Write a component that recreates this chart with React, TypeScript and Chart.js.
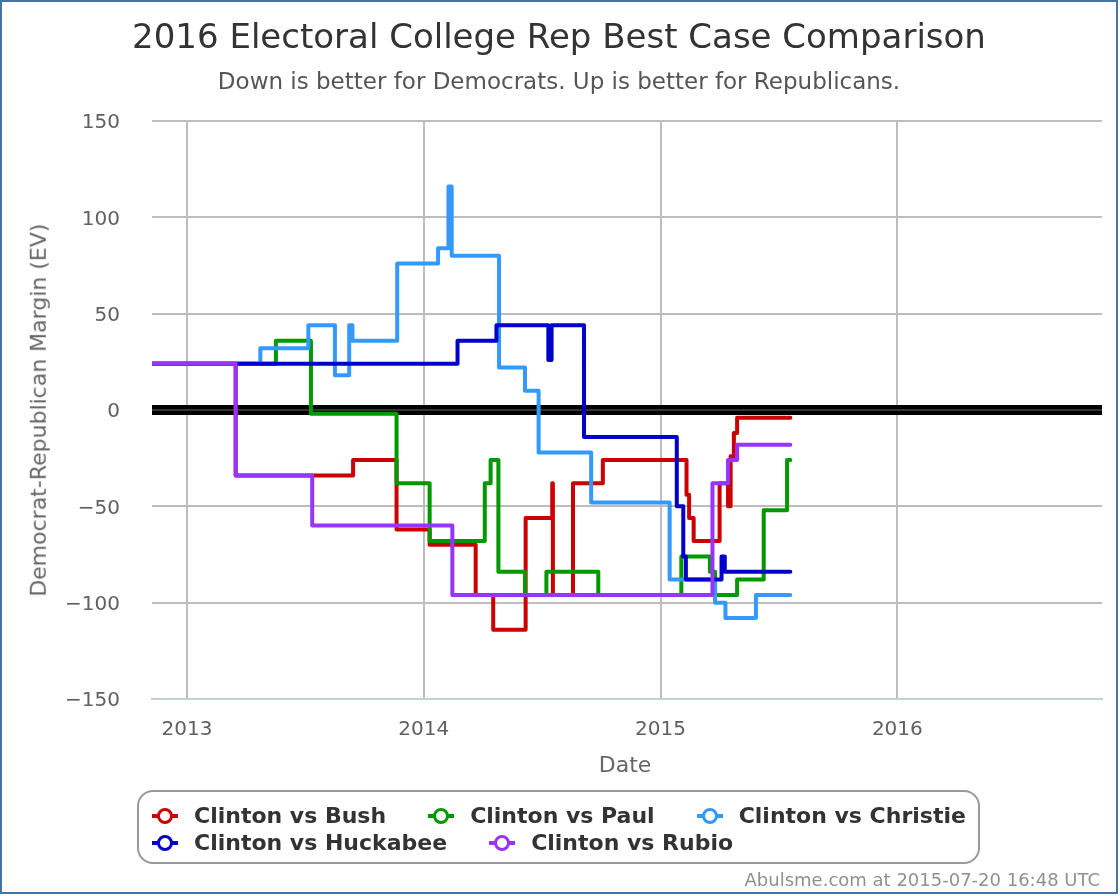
import React, { useEffect, useRef } from "react";
import { Chart, registerables } from "chart.js";

Chart.register(...registerables);

const FONT = "'DejaVu Sans', 'Liberation Sans', sans-serif";

// ---- Axis settings ----
const xMinDate = "2012-11-08";
const xMaxDate = "2016-11-11";
const yearTicks = [2013, 2014, 2015, 2016];
const yMin = -150;
const yMax = 150;
const yStep = 50;

// ---- Series data (date of change, new value) ----
const bushDates = [
  "2012-11-08", "2013-03-17", "2013-09-14", "2013-11-20", "2014-01-10", "2014-03-22",
  "2014-04-18", "2014-06-07", "2014-07-18", "2014-07-19", "2014-08-19", "2014-10-04",
  "2015-02-10", "2015-02-14", "2015-02-21", "2015-04-02", "2015-04-15", "2015-04-19",
  "2015-04-24", "2015-04-29", "2015-07-20",
];
const bushValues = [
  24, -34, -26, -62, -70, -96,
  -114, -56, -38, -96, -38, -26,
  -44, -56, -68, -38, -50, -24,
  -12, -4, -4,
];

const paulDates = [
  "2012-11-08", "2013-05-18", "2013-07-11", "2013-11-20", "2014-01-10", "2014-04-05",
  "2014-04-14", "2014-04-26", "2014-06-06", "2014-07-09", "2014-09-27", "2015-02-02",
  "2015-03-18", "2015-03-26", "2015-04-29", "2015-06-09", "2015-07-15", "2015-07-20",
];
const paulValues = [
  24, 36, -2, -38, -68, -38,
  -26, -84, -96, -84, -96, -76,
  -84, -96, -88, -52, -26, -26,
];

const christieDates = [
  "2012-11-08", "2013-04-24", "2013-07-07", "2013-08-17", "2013-09-08", "2013-09-13",
  "2013-11-21", "2014-01-23", "2014-02-08", "2014-02-13", "2014-04-27", "2014-06-06",
  "2014-06-27", "2014-09-16", "2015-01-15", "2015-03-26", "2015-04-11", "2015-05-28",
  "2015-07-20",
];
const christieValues = [
  24, 32, 44, 18, 44, 36,
  76, 84, 116, 80, 22, 10,
  -22, -48, -88, -100, -108, -96,
  -96,
];

const huckabeeDates = [
  "2012-11-08", "2014-02-22", "2014-04-23", "2014-07-12", "2014-07-17", "2014-09-05",
  "2015-01-26", "2015-02-05", "2015-02-09", "2015-04-05", "2015-04-10", "2015-07-20",
];
const huckabeeValues = [
  24, 36, 44, 26, 44, -14,
  -50, -76, -88, -76, -84, -84,
];

const rubioDates = [
  "2012-11-08", "2013-03-17", "2013-07-13", "2014-02-14", "2015-03-22", "2015-04-15",
  "2015-04-29", "2015-07-20",
];
const rubioValues = [24, -34, -60, -96, -38, -26, -18, -18];

const seriesNames = [
  "Clinton vs Bush",
  "Clinton vs Paul",
  "Clinton vs Christie",
  "Clinton vs Huckabee",
  "Clinton vs Rubio",
];
const seriesColors = ["#cc0000", "#009900", "#3399ff", "#0000cc", "#9933ff"];
const seriesDates = [bushDates, paulDates, christieDates, huckabeeDates, rubioDates];
const seriesValues = [bushValues, paulValues, christieValues, huckabeeValues, rubioValues];

const titleText = "2016 Electoral College Rep Best Case Comparison";
const subtitleText = "Down is better for Democrats. Up is better for Republicans.";
const yTitleText = "Democrat-Republican Margin (EV)";
const xTitleText = "Date";
const creditText = "Abulsme.com at 2015-07-20 16:48 UTC";

function ts(s: string): number {
  const [y, m, d] = s.split("-").map(Number);
  return Date.UTC(y, m - 1, d);
}

const zeroLinePlugin = {
  id: "zeroLine",
  beforeDatasetsDraw(chart: any) {
    const { ctx, chartArea, scales } = chart;
    const y = scales.y.getPixelForValue(0);
    ctx.save();
    ctx.fillStyle = "#000000";
    ctx.fillRect(chartArea.left, y - 5, chartArea.right - chartArea.left, 10);
    ctx.fillStyle = "#333333";
    ctx.fillRect(chartArea.left, y - 1, chartArea.right - chartArea.left, 2);
    ctx.restore();
  },
};

function textTop(centerY: number, size: number) {
  return centerY - 0.58 * size;
}

export default function App() {
  const canvasRef = useRef<HTMLCanvasElement>(null);

  useEffect(() => {
    if (!canvasRef.current) return;
    const datasets = seriesNames.map((name, i) => ({
      label: name,
      data: seriesDates[i].map((d, j) => ({ x: ts(d), y: seriesValues[i][j] })),
      borderColor: seriesColors[i],
      backgroundColor: seriesColors[i],
      borderWidth: 4,
      pointRadius: 0,
      pointHoverRadius: 0,
      stepped: "before",
      fill: false,
      order: seriesNames.length - i,
      borderJoinStyle: "round",
      borderCapStyle: "round",
    }));

    const chart = new Chart(canvasRef.current, {
      type: "line",
      data: { datasets } as any,
      plugins: [zeroLinePlugin],
      options: {
        animation: false,
        responsive: false,
        maintainAspectRatio: false,
        devicePixelRatio: 1,
        layout: { padding: { left: 52, right: 16, top: 121, bottom: 125 } },
        plugins: {
          legend: { display: false },
          title: { display: false },
          tooltip: { enabled: false },
        },
        scales: {
          x: {
            type: "linear",
            min: ts(xMinDate),
            max: ts(xMaxDate) + 12 * 3600 * 1000,
            afterBuildTicks: (scale: any) => {
              scale.ticks = yearTicks.map((y) => ({ value: Date.UTC(y, 0, 1) }));
            },
            afterFit: (scale: any) => {
              scale.height = 70;
            },
            ticks: {
              autoSkip: false,
              maxRotation: 0,
              padding: 19,
              color: "#606060",
              font: { family: FONT, size: 20 },
              callback: (v: any) => String(new Date(Number(v)).getUTCFullYear()),
            },
            grid: { color: "#bdbdbd", lineWidth: 2, drawTicks: false },
            border: { display: true, color: "#c0d0e0", width: 2 },
          },
          y: {
            type: "linear",
            min: yMin,
            max: yMax,
            afterFit: (scale: any) => {
              scale.width = 100;
            },
            ticks: {
              stepSize: yStep,
              padding: 32,
              labelOffset: 2,
              color: "#606060",
              font: { family: FONT, size: 20 },
              callback: (v: any) => (Number(v) < 0 ? "\u2212" + Math.abs(Number(v)) : String(v)),
            },
            grid: {
              color: (ctx: any) => (ctx.tick && ctx.tick.value === yMin ? "rgba(0,0,0,0)" : "#bdbdbd"),
              lineWidth: 2,
              drawTicks: false,
            },
            border: { display: false },
          },
        },
      } as any,
    });
    return () => chart.destroy();
  }, []);

  const legendRows = [
    [0, 1, 2],
    [3, 4],
  ];

  return (
    <div
      style={{
        position: "absolute",
        left: 0,
        top: 0,
        width: 1118,
        height: 894,
        background: "#ffffff",
        fontFamily: FONT,
        overflow: "hidden",
      }}
    >
      <canvas
        ref={canvasRef}
        width={1118}
        height={894}
        style={{ position: "absolute", left: 0, top: 0, width: 1118, height: 894 }}
      />
      <div
        style={{
          position: "absolute",
          left: 0,
          top: textTop(36, 34),
          width: 1118,
          textAlign: "center",
          fontSize: 34,
          lineHeight: 1.2,
          color: "#333333",
          whiteSpace: "nowrap",
        }}
      >
        {titleText}
      </div>
      <div
        style={{
          position: "absolute",
          left: 0,
          top: textTop(81, 23),
          width: 1118,
          textAlign: "center",
          fontSize: 23,
          lineHeight: 1.2,
          color: "#555555",
          whiteSpace: "nowrap",
        }}
      >
        {subtitleText}
      </div>
      <div
        style={{
          position: "absolute",
          left: 39 - 300,
          top: 410 - 13.2,
          width: 600,
          height: 26.4,
          textAlign: "center",
          fontSize: 22,
          lineHeight: 1.2,
          color: "#666666",
          whiteSpace: "nowrap",
          transform: "rotate(-90deg)",
          transformOrigin: "50% 50%",
        }}
      >
        {yTitleText}
      </div>
      <div
        style={{
          position: "absolute",
          left: 625 - 100,
          top: textTop(765, 22),
          width: 200,
          textAlign: "center",
          fontSize: 22,
          lineHeight: 1.2,
          color: "#666666",
          whiteSpace: "nowrap",
        }}
      >
        {xTitleText}
      </div>
      <div
        style={{
          position: "absolute",
          left: 137,
          top: 790,
          width: 843,
          height: 74,
          boxSizing: "border-box",
          border: "2px solid #999999",
          borderRadius: 16,
        }}
      />
      {legendRows.map((row, r) => (
        <div
          key={r}
          style={{
            position: "absolute",
            left: 152,
            top: (r === 0 ? 816 : 843) - 14,
            height: 28,
            display: "flex",
            alignItems: "center",
            gap: 42,
            whiteSpace: "nowrap",
          }}
        >
          {row.map((i) => (
            <div key={i} style={{ display: "flex", alignItems: "center" }}>
              <div style={{ position: "relative", width: 26, height: 28, marginRight: 16 }}>
                <div
                  style={{
                    position: "absolute",
                    left: 0,
                    top: 12,
                    width: 26,
                    height: 4,
                    background: seriesColors[i],
                  }}
                />
                <div
                  style={{
                    position: "absolute",
                    left: 5,
                    top: 6,
                    width: 16,
                    height: 16,
                    boxSizing: "border-box",
                    border: `3px solid ${seriesColors[i]}`,
                    borderRadius: "50%",
                    background: "#ffffff",
                  }}
                />
              </div>
              <span style={{ fontSize: 22, fontWeight: "bold", color: "#333333", lineHeight: "28px" }}>
                {seriesNames[i]}
              </span>
            </div>
          ))}
        </div>
      ))}
      <div
        style={{
          position: "absolute",
          right: 1118 - 1100,
          top: textTop(879, 18),
          fontSize: 18,
          lineHeight: 1.2,
          color: "#909090",
          whiteSpace: "nowrap",
        }}
      >
        {creditText}
      </div>
      <div
        style={{
          position: "absolute",
          left: 0,
          top: 0,
          width: 1118,
          height: 894,
          boxSizing: "border-box",
          border: "2px solid #4572a7",
          pointerEvents: "none",
        }}
      />
    </div>
  );
}
